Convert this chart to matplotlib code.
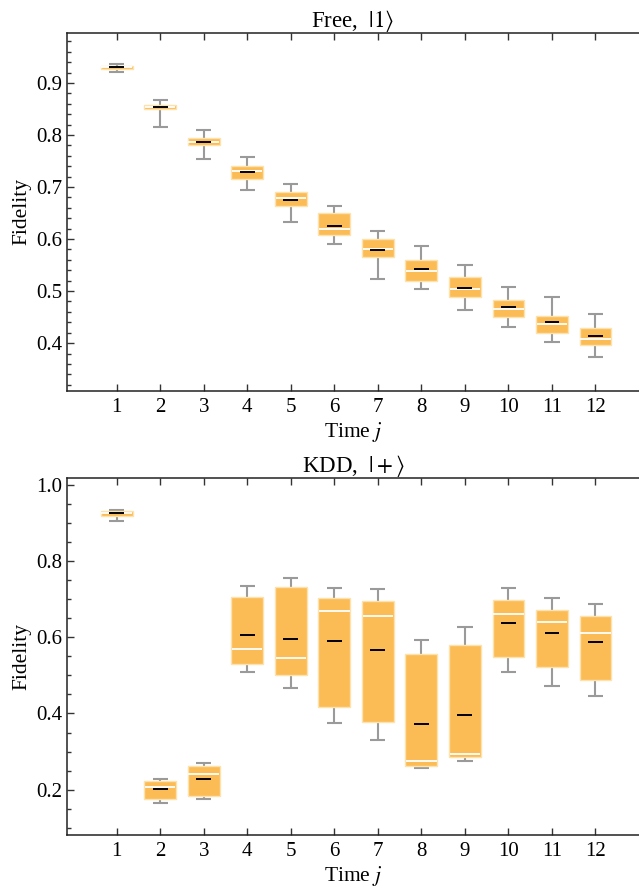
import numpy as np
import matplotlib
matplotlib.use("Agg")
import matplotlib.pyplot as plt
from matplotlib.ticker import MultipleLocator, FixedLocator

plt.rcParams["font.family"] = ["Liberation Serif", "DejaVu Serif"]
plt.rcParams["mathtext.fontset"] = "stix"

times = [1, 2, 3, 4, 5, 6, 7, 8, 9, 10, 11, 12]

# Free evolution, state |1>
free_lo = [0.922, 0.815, 0.753, 0.694, 0.633, 0.590, 0.524, 0.504, 0.464, 0.431, 0.403, 0.374]
free_q1 = [0.926, 0.849, 0.780, 0.716, 0.664, 0.608, 0.565, 0.520, 0.488, 0.451, 0.420, 0.397]
free_med = [0.930, 0.854, 0.787, 0.731, 0.678, 0.619, 0.580, 0.539, 0.504, 0.465, 0.437, 0.408]
free_mean = [0.930, 0.853, 0.786, 0.728, 0.675, 0.625, 0.579, 0.542, 0.506, 0.469, 0.440, 0.413]
free_q3 = [0.933, 0.858, 0.795, 0.741, 0.691, 0.650, 0.600, 0.560, 0.527, 0.483, 0.453, 0.429]
free_hi = [0.937, 0.868, 0.809, 0.758, 0.706, 0.663, 0.615, 0.586, 0.551, 0.508, 0.489, 0.455]

# KDD sequence, state |+>
kdd_lo = [0.906, 0.166, 0.175, 0.510, 0.468, 0.376, 0.331, 0.257, 0.276, 0.510, 0.473, 0.447]
kdd_q1 = [0.918, 0.176, 0.184, 0.531, 0.500, 0.417, 0.377, 0.263, 0.287, 0.548, 0.522, 0.488]
kdd_med = [0.925, 0.206, 0.240, 0.570, 0.546, 0.669, 0.655, 0.276, 0.293, 0.661, 0.641, 0.611]
kdd_mean = [0.925, 0.201, 0.229, 0.606, 0.595, 0.590, 0.566, 0.372, 0.396, 0.637, 0.612, 0.587]
kdd_q3 = [0.931, 0.223, 0.261, 0.705, 0.732, 0.702, 0.696, 0.555, 0.581, 0.697, 0.671, 0.656]
kdd_hi = [0.933, 0.227, 0.271, 0.735, 0.756, 0.730, 0.727, 0.593, 0.628, 0.729, 0.702, 0.687]

BOX_FILL = "#fbbc55"
BOX_EDGE = "#fde2ad"
WHISKER = "#9a9a9a"


def draw_boxes(ax, lo, q1, med, mean, q3, hi):
    x = np.array(times, dtype=float)
    lo, q1, med, mean, q3, hi = map(np.asarray, (lo, q1, med, mean, q3, hi))
    ax.vlines(x, lo, q1, color=WHISKER, lw=1.5, zorder=2)
    ax.vlines(x, q3, hi, color=WHISKER, lw=1.5, zorder=2)
    ax.hlines(lo, x - 0.175, x + 0.175, color=WHISKER, lw=1.5, zorder=2)
    ax.hlines(hi, x - 0.175, x + 0.175, color=WHISKER, lw=1.5, zorder=2)
    ax.bar(x, q3 - q1, bottom=q1, width=0.73, color=BOX_FILL,
           edgecolor=BOX_EDGE, linewidth=1.0, zorder=3)
    ax.hlines(med, x - 0.35, x + 0.35, color="white", lw=1.3, zorder=4)
    ax.hlines(mean, x - 0.17, x + 0.17, color="black", lw=1.4, zorder=5)


def style_axes(ax, ylim, major, minor):
    ax.set_xlim(-0.14, 13.0)
    ax.set_ylim(*ylim)
    ax.xaxis.set_major_locator(FixedLocator(times))
    ax.yaxis.set_major_locator(MultipleLocator(major))
    ax.yaxis.set_minor_locator(MultipleLocator(minor))
    ax.tick_params(axis="both", which="both", direction="in", top=True,
                   right=False, labelsize=15, width=1.0, color="#333333")
    ax.tick_params(axis="both", which="major", length=5)
    ax.tick_params(axis="y", which="minor", length=3)
    ax.tick_params(axis="x", which="minor", top=False, bottom=False)
    ax.tick_params(axis="x", pad=5)
    ax.spines["right"].set_visible(False)
    for s in ("left", "bottom", "top"):
        ax.spines[s].set_linewidth(1.1)
        ax.spines[s].set_color("#222222")
    ax.set_xlabel("Time $j$", fontsize=15.5, labelpad=2)
    ax.set_ylabel("Fidelity", fontsize=15.5, labelpad=3)


fig = plt.figure(figsize=(6.39, 8.92), dpi=100)
ax1 = fig.add_axes([0.1049, 0.5617, 0.8951, 0.4013])
ax2 = fig.add_axes([0.1049, 0.0639, 0.8951, 0.4002])

draw_boxes(ax1, free_lo, free_q1, free_med, free_mean, free_q3, free_hi)
style_axes(ax1, (0.308, 0.996), 0.1, 0.02)
ax1.set_title(r"Free,  $|1\rangle$", fontsize=16.5, pad=4)

draw_boxes(ax2, kdd_lo, kdd_q1, kdd_med, kdd_mean, kdd_q3, kdd_hi)
style_axes(ax2, (0.081, 1.018), 0.2, 0.05)
ax2.set_title(r"KDD,  $|+\rangle$", fontsize=16.5, pad=4)

fig.savefig("out.png", dpi=100)
